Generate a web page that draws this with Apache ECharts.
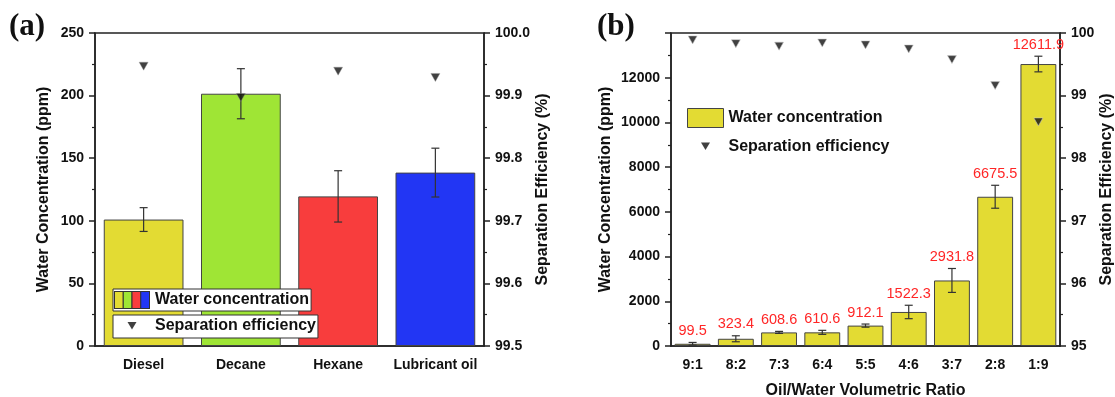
<!DOCTYPE html>
<html>
<head>
<meta charset="utf-8">
<script src="https://cdn.jsdelivr.net/npm/echarts@6/dist/echarts.min.js"></script>
<style>
  html, body { margin: 0; padding: 0; background: #fff; }
  #chart { width: 1115px; height: 397px; }
</style>
</head>
<body>
<div id="chart"></div>
<script>
// panel (a): different oils
const oils = ['Diesel', 'Decane', 'Hexane', 'Lubricant oil']
const oilWater = [101, 201.5, 119.5, 138.5]
const oilWaterErr = [9.5, 20, 20.5, 19.5]
const oilEff = [99.947, 99.897, 99.939, 99.929]
const oilColors = ['#e3db33', '#9fe535', '#f83d3d', '#2236f4']

// panel (b): oil/water ratios
const ratios = ['9:1', '8:2', '7:3', '6:4', '5:5', '4:6', '3:7', '2:8', '1:9']
const ratioWater = [99.5, 323.4, 608.6, 610.6, 912.1, 1522.3, 2931.8, 6675.5, 12611.9]
const ratioWaterErr = [60, 134, 45, 90, 70, 300, 535, 513, 350]
const ratioEff = [99.89, 99.83, 99.79, 99.84, 99.81, 99.745, 99.575, 99.16, 98.58]

const FONT = '"Liberation Sans", Arial, sans-serif'
const AX = '#222'
const triPath = 'path://M0,0 L10,0 L5,9 Z'

function svgIcon(body) {
  return 'image://data:image/svg+xml;charset=utf-8,' + encodeURIComponent(
    "<svg xmlns='http://www.w3.org/2000/svg' width='36' height='18'>" + body + '</svg>')
}
const stripeIcon = svgIcon(oilColors.map((c, i) =>
  "<rect x='" + (0.5 + i * 8.75) + "' y='0.5' width='8.75' height='17' fill='" + c + "' stroke='#333' stroke-width='1'/>").join(''))
const triIcon = svgIcon("<path d='M13.5,5 L22.5,5 L18,12.5 Z' fill='#111'/>")

function valueAxis(grid, pos, min, max, interval, fmt, name, gap) {
  return {
    type: 'value', gridIndex: grid, position: pos, min: min, max: max, interval: interval,
    name: name, nameLocation: 'middle', nameGap: gap, nameRotate: 90,
    nameTextStyle: { fontFamily: FONT, fontWeight: 'bold', fontSize: 16, color: '#111' },
    axisLine: { show: true, lineStyle: { color: AX, width: 1.5 } },
    axisTick: { show: true, inside: false, length: 6, lineStyle: { color: AX, width: 1.5 } },
    minorTick: { show: true, splitNumber: 2, length: 3, lineStyle: { color: AX, width: 1.2 } },
    splitLine: { show: false },
    axisLabel: { margin: 11, fontFamily: FONT, fontWeight: 'bold', fontSize: 14, color: '#111', formatter: fmt }
  }
}

function catAxis(grid, data, name) {
  return {
    type: 'category', gridIndex: grid, data: data,
    name: name, nameLocation: 'middle', nameGap: 37,
    nameTextStyle: { fontFamily: FONT, fontWeight: 'bold', fontSize: 16, color: '#111' },
    axisLine: { lineStyle: { color: AX, width: 1.5 } },
    axisTick: { alignWithLabel: true, length: 6, lineStyle: { color: AX, width: 1.5 } },
    axisLabel: { interval: 0, margin: 12, fontFamily: FONT, fontWeight: 'bold', fontSize: 14, color: '#111' }
  }
}

function errorRender(withLabel, cap) {
  return function (params, api) {
    const x = api.value(0), v = api.value(1), e = api.value(2)
    const top = api.coord([x, v + e])
    const bot = api.coord([x, Math.max(v - e, 0)])
    const ls = { stroke: '#333', lineWidth: 1.2 }
    const children = [
      { type: 'line', shape: { x1: top[0], y1: top[1], x2: bot[0], y2: bot[1] }, style: ls },
      { type: 'line', shape: { x1: top[0] - cap, y1: top[1], x2: top[0] + cap, y2: top[1] }, style: ls },
      { type: 'line', shape: { x1: bot[0] - cap, y1: bot[1], x2: bot[0] + cap, y2: bot[1] }, style: ls }
    ]
    if (withLabel) {
      children.push({
        type: 'text',
        style: {
          text: v.toFixed(1), x: top[0], y: top[1] - 4, align: 'center', verticalAlign: 'bottom',
          fill: '#ff2626', font: '14.5px ' + FONT
        }
      })
    }
    return { type: 'group', children: children }
  }
}

const chart = echarts.init(document.getElementById('chart'))
chart.setOption({
  animation: false,
  backgroundColor: '#fff',
  graphic: [
    { type: 'text', left: 9, top: 11, style: { text: '(a)', font: 'bold 31px "Liberation Serif", serif', fill: '#111' } },
    { type: 'text', left: 597, top: 11, style: { text: '(b)', font: 'bold 31px "Liberation Serif", serif', fill: '#111' } }
  ],
  legend: [
    {
      left: 113, top: 289, padding: [2, 2, 2, 1], itemWidth: 36, itemHeight: 18,
      borderColor: '#333', borderWidth: 1, backgroundColor: '#fff', selectedMode: false,
      textStyle: { fontFamily: FONT, fontWeight: 'bold', fontSize: 16, color: '#111' },
      data: [{ name: 'Water concentration', icon: stripeIcon }]
    },
    {
      left: 113, top: 315, padding: [2, 2, 3, 1], itemWidth: 36, itemHeight: 18,
      borderColor: '#333', borderWidth: 1, backgroundColor: '#fff', selectedMode: false,
      textStyle: { fontFamily: FONT, fontWeight: 'bold', fontSize: 16, color: '#111' },
      data: [{ name: 'Separation efficiency', icon: triIcon }]
    },
    {
      left: 687, top: 108, orient: 'vertical', padding: 0, itemWidth: 36, itemHeight: 19, itemGap: 9,
      selectedMode: false,
      textStyle: { fontFamily: FONT, fontWeight: 'bold', fontSize: 16, color: '#111' },
      data: [
        { name: 'Water concentration', icon: 'rect', itemStyle: { color: '#e3db33', borderColor: '#444', borderWidth: 1 } },
        { name: 'Separation efficiency', icon: triIcon }
      ]
    }
  ],
  grid: [
    {
      left: 95, top: 33, width: 389, height: 313, containLabel: false, outerBoundsMode: 'none',
      show: true, borderColor: AX, borderWidth: 1.5, backgroundColor: 'transparent'
    },
    {
      left: 671, top: 33, width: 389, height: 313, containLabel: false, outerBoundsMode: 'none',
      show: true, borderColor: AX, borderWidth: 1.5, backgroundColor: 'transparent'
    }
  ],
  xAxis: [
    catAxis(0, oils, ''),
    catAxis(1, ratios, 'Oil/Water Volumetric Ratio')
  ],
  yAxis: [
    valueAxis(0, 'left', 0, 250, 50, v => v, 'Water Concentration (ppm)', 43),
    valueAxis(0, 'right', 99.5, 100, 0.1, v => v.toFixed(1), 'Separation Efficiency (%)', 51),
    valueAxis(1, 'left', 0, 14000, 2000, v => (v >= 14000 ? '' : v), 'Water Concentration (ppm)', 57),
    valueAxis(1, 'right', 95, 100, 1, v => v, 'Separation Efficiency (%)', 38)
  ],
  series: [
    {
      name: 'Water concentration', type: 'bar', xAxisIndex: 0, yAxisIndex: 0, barWidth: '82%',
      itemStyle: { color: oilColors[0], borderColor: '#444', borderWidth: 1 },
      data: oilWater.map((v, i) => ({ value: v, itemStyle: { color: oilColors[i] } }))
    },
    {
      name: 'Water concentration err', type: 'custom', xAxisIndex: 0, yAxisIndex: 0, z: 3,
      renderItem: errorRender(false, 4), encode: { x: 0, y: 1 },
      data: oilWater.map((v, i) => [i, v, oilWaterErr[i]])
    },
    {
      name: 'Separation efficiency', type: 'scatter', xAxisIndex: 0, yAxisIndex: 1, z: 4,
      symbol: triPath, symbolSize: [9, 8],
      itemStyle: { color: '#111', borderColor: '#999', borderWidth: 0.5 },
      data: oilEff
    },
    {
      name: 'Water concentration', type: 'bar', xAxisIndex: 1, yAxisIndex: 2, barWidth: '83%',
      itemStyle: { color: '#e3db33', borderColor: '#444', borderWidth: 1 },
      data: ratioWater
    },
    {
      name: 'Water concentration err b', type: 'custom', xAxisIndex: 1, yAxisIndex: 2, z: 3,
      renderItem: errorRender(true, 4), encode: { x: 0, y: 1 },
      data: ratioWater.map((v, i) => [i, v, ratioWaterErr[i]])
    },
    {
      name: 'Separation efficiency', type: 'scatter', xAxisIndex: 1, yAxisIndex: 3, z: 4,
      symbol: triPath, symbolSize: [9, 8],
      itemStyle: { color: '#111', borderColor: '#ccc', borderWidth: 0.7 },
      data: ratioEff
    }
  ]
})
</script>
</body>
</html>
